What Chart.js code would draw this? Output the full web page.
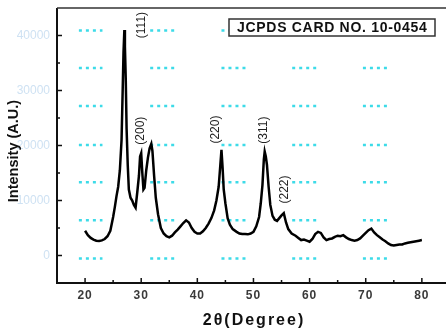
<!DOCTYPE html>
<html>
<head>
<meta charset="utf-8">
<script src="https://cdn.jsdelivr.net/npm/chart.js@4/dist/chart.umd.min.js"></script>
<style>
  body { margin: 0; background: #fff; }
  #wrap { width: 446px; height: 331px; overflow: hidden; }
</style>
</head>
<body>
<div id="wrap"><canvas id="xrd" width="446" height="331"></canvas></div>
<script>
// XRD pattern (2θ in degrees, intensity in a.u.)
const twoTheta = [
  20, 20.5, 21, 21.5, 22, 22.5, 23, 23.5, 24, 24.5, 25, 25.3, 25.6, 25.9, 26.2, 26.5, 26.7, 26.85, 27.0, 27.1,
  27.25, 27.4, 27.6, 27.8, 28.1, 28.4, 28.7, 29.0, 29.3, 29.6, 29.8, 30.0, 30.2, 30.4, 30.6, 30.9, 31.2, 31.5, 31.8, 32.0,
  32.3, 32.6, 33.0, 33.5, 34.0, 34.5, 35.0, 35.5, 36.0, 36.5, 37.0, 37.5, 38.0, 38.5, 39.0, 39.5, 40.0, 40.5, 41.0, 41.5,
  42.0, 42.5, 43.0, 43.4, 43.8, 44.1, 44.3, 44.5, 44.7, 45.0, 45.4, 45.8, 46.3, 47.0, 47.5, 48.0, 48.5, 49.0, 49.5, 50.0,
  50.5, 51.0, 51.3, 51.6, 51.85, 52.0, 52.2, 52.4, 52.7, 53.0, 53.4, 53.8, 54.2, 54.6, 55.0, 55.4, 55.8, 56.2, 56.8, 57.5,
  58.0, 58.5, 59.0, 59.5, 60.0, 60.5, 61.0, 61.5, 62.0, 62.5, 63.0, 63.5, 64.0, 64.5, 65.0, 65.5, 66.0, 66.5, 67.0, 67.5,
  68.0, 68.5, 69.0, 69.5, 70.0, 70.5, 71.0, 71.5, 72.0, 72.5, 73.0, 73.5, 74.0, 74.5, 75.0, 75.5, 76.0, 76.5, 77.0, 77.5,
  78.0, 78.5, 79.0, 79.5, 80.0
];
const intensity = [
  4500, 3700, 3200, 2900, 2700, 2650, 2750, 3000, 3500, 4500, 7000, 8800, 10800, 12500, 15500, 21000, 30000, 37000, 41000, 38000,
  32000, 23000, 16500, 12000, 10500, 10000, 9200, 8700, 11500, 14500, 18000, 18600, 15000, 12000, 12300, 15500, 17800, 19500, 20300, 19000,
  14500, 10500, 7500, 5000, 4000, 3500, 3300, 3600, 4200, 4700, 5300, 5900, 6400, 6000, 5000, 4300, 4000, 4000, 4400, 5000,
  5800, 6800, 8200, 10000, 12500, 16500, 19200, 16000, 12000, 9500, 6800, 5600, 4800, 4300, 4000, 3900, 3900, 3850, 4000, 4300,
  5300, 7000, 9500, 12800, 17500, 18900, 18000, 16500, 12500, 9200, 7200, 6500, 6300, 6800, 7300, 7700, 6000, 4800, 4000, 3600,
  3200, 2800, 2900, 2700, 2500, 3000, 3900, 4300, 4100, 3300, 2800, 3000, 3100, 3400, 3600, 3500, 3700, 3300, 3000, 2800,
  2700, 2800, 3100, 3600, 4100, 4600, 4900, 4200, 3700, 3300, 2900, 2600, 2200, 1900, 1800, 1900, 2000, 2000, 2200, 2300,
  2400, 2500, 2600, 2700, 2800
];

// axis ticks
const xTicks = [20, 30, 40, 50, 60, 70, 80];
const xMinorTicks = [25, 35, 45, 55, 65, 75];
const yTicks = [0, 10000, 20000, 30000, 40000];
const yMinorTicks = [5000, 15000, 25000, 35000];
const yTickLabels = ['0', '10000', '20000', '30000', '40000'];

// reflection labels
const peakLabels = ['(111)', '(200)', '(220)', '(311)', '(222)'];
const peakLabelX = [30.1, 29.85, 43.3, 51.8, 55.5];
const peakLabelY = [41900, 22700, 22900, 22800, 12000];

// cyan dotted marks in the background
const dashRowY = [40900, 34100, 27200, 20100, 13300, 6400, -550];
const dashColStart = [18.9, 31.6, 44.3, 56.9, 69.5];
const dashColEnd = [23.1, 35.9, 48.6, 61.3, 73.9];

const cardText = 'JCPDS CARD NO. 10-0454';

const dashData = [];
dashRowY.forEach(y => {
  dashColStart.forEach((s, i) => {
    dashData.push({ x: s, y: y });
    dashData.push({ x: dashColEnd[i], y: y });
    dashData.push({ x: dashColEnd[i], y: null });
  });
});

const xrdData = twoTheta.map((t, i) => ({ x: t, y: intensity[i] }));

// axes, ticks and texts
const decor = {
  id: 'decor',
  beforeDraw(chart) {
    const ctx = chart.ctx;
    ctx.save();
    ctx.fillStyle = '#fff';
    ctx.fillRect(0, 0, chart.width, chart.height);
    ctx.restore();
  },
  afterDraw(chart) {
    const ctx = chart.ctx;
    const a = chart.chartArea;
    const xs = chart.scales.x;
    const ys = chart.scales.y;
    ctx.save();

    // frame
    ctx.strokeStyle = '#111';
    ctx.lineWidth = 2;
    ctx.beginPath();
    ctx.moveTo(a.left, a.top);
    ctx.lineTo(a.left, a.bottom);
    ctx.lineTo(a.right, a.bottom);
    ctx.stroke();
    ctx.lineWidth = 1.5;
    ctx.strokeStyle = '#333';
    ctx.beginPath();
    ctx.moveTo(a.left, a.top);
    ctx.lineTo(a.right, a.top);
    ctx.stroke();

    // inward ticks
    ctx.strokeStyle = '#111';
    ctx.lineWidth = 1.5;
    ctx.beginPath();
    xTicks.forEach(v => {
      const px = xs.getPixelForValue(v);
      ctx.moveTo(px, a.bottom);
      ctx.lineTo(px, a.bottom - 5);
    });
    xMinorTicks.forEach(v => {
      const px = xs.getPixelForValue(v);
      ctx.moveTo(px, a.bottom);
      ctx.lineTo(px, a.bottom - 3);
    });
    yTicks.forEach(v => {
      const py = ys.getPixelForValue(v);
      ctx.moveTo(a.left, py);
      ctx.lineTo(a.left + 5, py);
    });
    yMinorTicks.forEach(v => {
      const py = ys.getPixelForValue(v);
      ctx.moveTo(a.left, py);
      ctx.lineTo(a.left + 3, py);
    });
    ctx.stroke();

    // tick labels
    ctx.font = 'bold 12px "Liberation Sans", Arial, sans-serif';
    ctx.fillStyle = '#3a3a3a';
    ctx.textAlign = 'center';
    ctx.textBaseline = 'middle';
    ctx.letterSpacing = '1px';
    xTicks.forEach(v => {
      ctx.fillText(String(v), xs.getPixelForValue(v), 296);
    });
    ctx.letterSpacing = '0px';
    ctx.font = '12px "Liberation Sans", Arial, sans-serif';
    ctx.fillStyle = '#cfe2f3';
    ctx.textAlign = 'right';
    yTicks.forEach((v, i) => {
      ctx.fillText(yTickLabels[i], 50, ys.getPixelForValue(v));
    });

    // axis titles
    ctx.fillStyle = '#111';
    ctx.textAlign = 'center';
    ctx.font = 'bold 16px "Liberation Sans", Arial, sans-serif';
    ctx.letterSpacing = '2px';
    ctx.fillText('2θ(Degree)', 254, 321);
    ctx.letterSpacing = '0px';
    ctx.save();
    ctx.translate(14, 151);
    ctx.rotate(-Math.PI / 2);
    ctx.font = 'bold 14.5px "Liberation Sans", Arial, sans-serif';
    ctx.fillText('Intensity (A.U.)', 0, 0);
    ctx.restore();

    // reflection labels
    ctx.font = '12px "Liberation Sans", Arial, sans-serif';
    ctx.fillStyle = '#222';
    peakLabels.forEach((t, i) => {
      ctx.save();
      ctx.translate(xs.getPixelForValue(peakLabelX[i]), ys.getPixelForValue(peakLabelY[i]));
      ctx.rotate(-Math.PI / 2);
      ctx.fillText(t, 0, 0);
      ctx.restore();
    });

    // card box
    ctx.fillStyle = '#fff';
    ctx.fillRect(229, 19, 206, 17);
    ctx.strokeStyle = '#333';
    ctx.lineWidth = 1.5;
    ctx.strokeRect(229, 19, 206, 17);
    ctx.fillStyle = '#111';
    ctx.font = 'bold 14px "Liberation Sans", Arial, sans-serif';
    ctx.letterSpacing = '0.7px';
    ctx.textAlign = 'left';
    ctx.fillText(cardText, 237, 28);
    ctx.restore();
  }
};

new Chart(document.getElementById('xrd'), {
  type: 'line',
  data: {
    datasets: [
      {
        data: xrdData,
        borderColor: '#000',
        borderWidth: 2.5,
        pointRadius: 0,
        tension: 0,
        order: 1
      },
      {
        data: dashData,
        borderColor: 'rgba(40, 215, 230, 0.9)',
        borderWidth: 2.5,
        borderDash: [3, 4],
        pointRadius: 0,
        spanGaps: false,
        order: 2
      }
    ]
  },
  options: {
    responsive: false,
    animation: false,
    layout: { padding: { left: 57, top: 8, right: 0, bottom: 48 } },
    plugins: { legend: { display: false }, tooltip: { enabled: false } },
    scales: {
      x: { type: 'linear', min: 15, max: 84.3, display: false },
      y: { type: 'linear', min: -5000, max: 45000, display: false }
    }
  },
  plugins: [decor]
});
</script>
</body>
</html>
